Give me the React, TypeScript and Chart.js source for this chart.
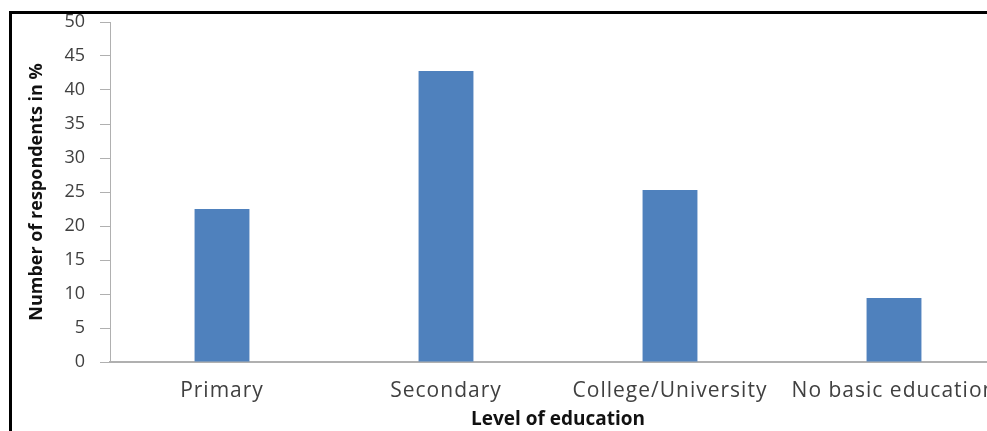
import React, { useEffect, useRef } from "react";
import { Chart, registerables } from "chart.js";

Chart.register(...registerables);

const categories = ["Primary", "Secondary", "College/University", "No basic education"];
const values = [22.5, 42.8, 25.3, 9.4];
const yMin = 0;
const yMax = 50;
const yStep = 5;

const FONT = "'Open Sans', 'Noto Sans', sans-serif";

const spacingPlugin = {
  id: "spacing",
  beforeDraw(chart: any) {
    chart.ctx.letterSpacing = "0px";
  },
  afterDatasetsDraw(chart: any) {
    chart.ctx.letterSpacing = "1px";
  },
  afterDraw(chart: any) {
    chart.ctx.letterSpacing = "0px";
  },
};

export default function App() {
  const ref = useRef<HTMLCanvasElement | null>(null);
  useEffect(() => {
    if (!ref.current) return;
    const chart = new Chart(ref.current, {
      type: "bar",
      data: {
        labels: categories,
        datasets: [
          {
            data: values,
            backgroundColor: "#4F81BD",
            borderWidth: 0,
            categoryPercentage: 1,
            barPercentage: 0.245,
          },
        ],
      },
      plugins: [spacingPlugin],
      options: {
        responsive: false,
        animation: false,
        maintainAspectRatio: false,
        layout: { padding: { left: 0, top: 22, right: 4, bottom: 0 } },
        plugins: { legend: { display: false }, tooltip: { enabled: false } },
        scales: {
          x: {
            grid: { display: false, drawTicks: false },
            border: { display: true, color: "#b0b0b0", width: 2 },
            ticks: { z: 1, color: "#404040", font: { family: FONT, size: 21 }, padding: 16, maxRotation: 0, autoSkip: false },
            title: {
              display: true,
              text: "Level of education",
              color: "#111",
              font: { family: FONT, size: 19, weight: "bold" },
              padding: { top: 0, bottom: 0 },
            },
            afterFit: (s: any) => {
              s.height = 69;
            },
          },
          y: {
            min: yMin,
            max: yMax,
            ticks: { stepSize: yStep, color: "#404040", font: { family: FONT, size: 18 }, padding: 15 },
            grid: { drawOnChartArea: false, drawTicks: true, tickLength: 10, color: "#b0b0b0", lineWidth: 1 },
            border: { display: true, color: "#b0b0b0", width: 1 },
            title: {
              display: true,
              text: "Number of respondents in %",
              color: "#111",
              font: { family: FONT, size: 18, weight: "bold" },
              padding: { top: 26, bottom: 0 },
            },
            afterFit: (s: any) => {
              s.width = 110;
              s.paddingTop = 0;
              s.paddingBottom = 0;
            },
          },
        },
      },
    });
    return () => chart.destroy();
  }, []);
  return (
    <div style={{ position: "absolute", left: 0, top: 0, width: 987, height: 431, overflow: "hidden", background: "#fff" }}>
      <canvas ref={ref} width={1010} height={431} style={{ position: "absolute", left: 0, top: 0 }} />
      <div
        style={{
          position: "absolute",
          left: 9,
          top: 11,
          width: 1000,
          height: 500,
          borderTop: "3px solid #000",
          borderLeft: "3px solid #000",
          pointerEvents: "none",
        }}
      />
    </div>
  );
}
